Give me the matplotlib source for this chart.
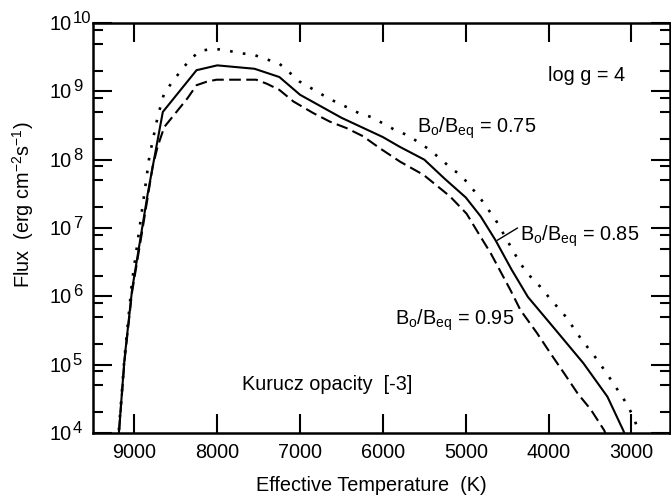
import numpy as np
import matplotlib
matplotlib.use("Agg")
import matplotlib.pyplot as plt
from matplotlib.ticker import FixedLocator, NullFormatter

plt.rcParams['font.family'] = ['Liberation Sans', 'DejaVu Sans']
plt.rcParams['mathtext.fontset'] = 'custom'
plt.rcParams['mathtext.rm'] = 'Liberation Sans'
plt.rcParams['mathtext.it'] = 'Liberation Sans'

# B_o/B_eq = 0.75 (dotted)
teff_075 = [9200, 9120, 9030, 8880, 8820, 8720, 8640, 8540, 8440, 8330, 8210, 8050,
            7890, 7730, 7580, 7410, 7260, 7140, 7010, 6870, 6730, 6590, 6440, 6290,
            6140, 6000, 5850, 5710, 5570, 5430, 5170, 5050, 4940, 4840, 4740, 4640,
            4500, 4340, 4220, 4100, 4000, 3790, 3610, 3410, 3230, 3050, 2960, 2900]
flux_075 = [7.1e3, 1.26e5, 1.6e6, 3.2e7, 1.1e8, 4.2e8, 9.5e8, 1.38e9, 2.0e9, 2.9e9, 3.9e9, 4.2e9,
            4.0e9, 3.6e9, 3.5e9, 2.95e9, 2.6e9, 1.95e9, 1.4e9, 1.12e9, 8.9e8, 7.2e8, 5.9e8, 4.8e8,
            4.2e8, 3.4e8, 2.7e8, 2.3e8, 1.8e8, 1.38e8, 7.4e7, 5.8e7, 4.0e7, 2.9e7, 1.95e7, 1.32e7,
            6.6e6, 3.0e6, 1.95e6, 1.38e6, 9.8e5, 5.0e5, 2.4e5, 1.17e5, 5.6e4, 2.6e4, 1.55e4, 8.9e3]

# B_o/B_eq = 0.85 (solid)
teff_085 = [9200, 9121, 9028, 8839, 8657, 8250, 8000, 7550, 7250, 7000, 6500,
            6000, 5800, 5500, 5250, 5000, 4820, 4640, 4450, 4250, 3940, 3580, 3290,
            3100, 3050]
flux_085 = [6.3e3, 1.17e5, 1.26e6, 3.2e7, 5.0e8, 2.04e9, 2.4e9, 2.14e9, 1.62e9, 8.9e8, 4.1e8,
            2.14e8, 1.55e8, 1.0e8, 5.2e7, 2.8e7, 1.48e7, 6.6e6, 2.5e6, 9.8e5, 3.5e5, 1.05e5, 3.4e4,
            1.1e4, 7.9e3]

# B_o/B_eq = 0.95 (dashed)
teff_095 = [9200, 9120, 9030, 8900, 8780, 8720, 8640, 8360, 8250, 8130, 8010, 7530,
            7400, 7250, 7080, 6840, 6640, 6440, 6240, 6030, 5790, 5510, 5190, 4990,
            4820, 4700, 4580, 4460, 4340, 4140, 3980, 3810, 3650, 3490, 3330, 3280]
flux_095 = [6.3e3, 1.12e5, 1.12e6, 1.0e7, 7.9e7, 1.55e8, 3.0e8, 7.9e8, 1.23e9, 1.38e9, 1.48e9, 1.48e9,
            1.29e9, 1.05e9, 7.1e8, 4.8e8, 3.6e8, 2.9e8, 2.2e8, 1.45e8, 9.3e7, 6.0e7, 2.9e7, 1.62e7,
            7.4e6, 4.3e6, 2.3e6, 1.23e6, 6.3e5, 2.9e5, 1.48e5, 7.4e4, 3.8e4, 2.2e4, 1.1e4, 7.9e3]

x_ticks = [9000, 8000, 7000, 6000, 5000, 4000, 3000]
y_exponents = [4, 5, 6, 7, 8, 9, 10]
y_minor = [m * 10.0 ** e for e in range(4, 10) for m in (2, 5, 8)]

fs = 14.3
fig = plt.figure(figsize=(6.71, 4.95), dpi=100)
ax = fig.add_axes([0.1386, 0.1253, 0.8592, 0.8282])

lw = 1.5
ax.plot(teff_075, flux_075, color='black', lw=1.9, linestyle=(0, (1.0, 3.9)),
        dash_capstyle='butt')
ax.plot(teff_085, flux_085, color='black', lw=lw)
ax.plot(teff_095, flux_095, color='black', lw=lw, linestyle=(0, (5.6, 2.6)))

ax.set_yscale('log')
ax.set_xlim(9500, 2540)
ax.set_ylim(1e4, 1e10)

ax.xaxis.set_major_locator(FixedLocator(x_ticks))
ax.set_xticklabels([str(t) for t in x_ticks])
ax.yaxis.set_major_locator(FixedLocator([10.0 ** e for e in y_exponents]))
ax.yaxis.set_major_formatter(NullFormatter())
ax.yaxis.set_minor_locator(FixedLocator(y_minor))
ax.yaxis.set_minor_formatter(NullFormatter())
ax.xaxis.set_minor_locator(FixedLocator([]))

ax.tick_params(which='major', direction='in', length=14, width=1.5,
               top=True, right=True, labelsize=fs)
ax.tick_params(which='minor', direction='in', length=7, width=1.5,
               top=True, right=True)
ax.tick_params(axis='x', pad=7)
for s in ax.spines.values():
    s.set_linewidth(1.8)

# y tick labels: "10" with a large raised exponent
for e in y_exponents:
    ax.annotate('10', xy=(0, 10.0 ** e), xycoords=('axes fraction', 'data'),
                xytext=(-15.5, -5), textcoords='offset points',
                ha='right', va='baseline', fontsize=fs)
    ax.annotate(str(e), xy=(0, 10.0 ** e), xycoords=('axes fraction', 'data'),
                xytext=(-14.5, 0), textcoords='offset points',
                ha='left', va='baseline', fontsize=12)

ax.set_xlabel('Effective Temperature  (K)', fontsize=fs)
ax.xaxis.set_label_coords(0.483, -0.105)
ax.set_ylabel(r'Flux  (erg cm$^{-2}$s$^{-1}$)', fontsize=fs)
ax.yaxis.set_label_coords(-0.099, 0.556)

ax.text(0.789, 0.859, 'log g = 4', transform=ax.transAxes, fontsize=fs)
ax.text(0.562, 0.732, r'B$_\mathregular{o}$/B$_\mathregular{eq}$ = 0.75',
        transform=ax.transAxes, fontsize=fs)
ax.text(0.741, 0.468, r'B$_\mathregular{o}$/B$_\mathregular{eq}$ = 0.85',
        transform=ax.transAxes, fontsize=fs)
ax.text(0.524, 0.263, r'B$_\mathregular{o}$/B$_\mathregular{eq}$ = 0.95',
        transform=ax.transAxes, fontsize=fs)
ax.text(0.2586, 0.105, 'Kurucz opacity  [-3]', transform=ax.transAxes, fontsize=fs)

# leader line for the 0.85 label
ax.annotate('', xy=(4620, 6.6e6), xytext=(4375, 1.0e7),
            arrowprops=dict(arrowstyle='-', lw=1.0, shrinkA=0, shrinkB=0))

fig.savefig('out.png', dpi=100)
